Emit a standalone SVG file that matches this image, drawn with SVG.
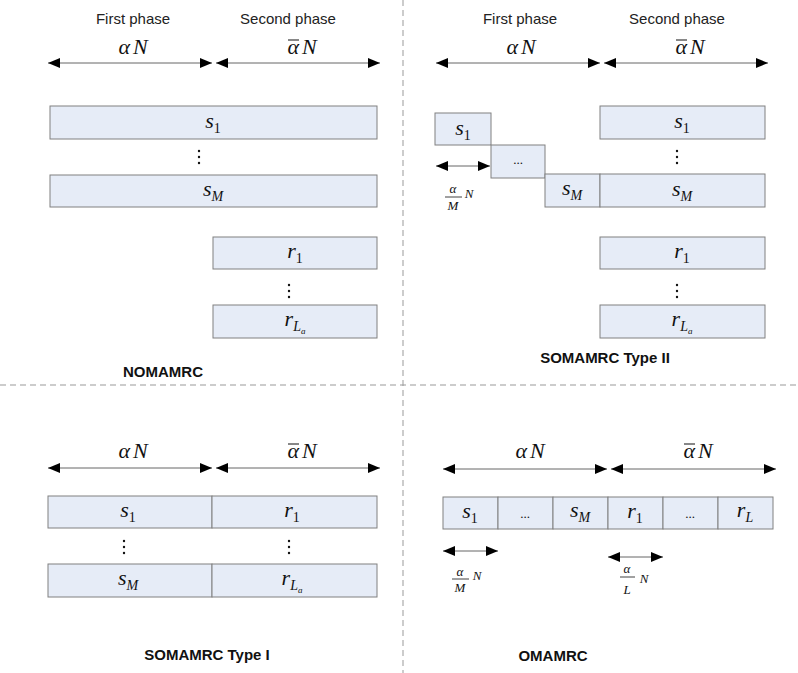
<svg xmlns="http://www.w3.org/2000/svg" width="798" height="673" viewBox="0 0 798 673">
<defs>
<style>
.box{fill:#E6ECF7;stroke:#808080;stroke-width:1}
.arr{stroke:#666;stroke-width:1;fill:none;marker-start:url(#ah);marker-end:url(#ah)}
.div{stroke:#999;stroke-width:1;stroke-dasharray:6,4;fill:none}
.ph{font-family:"Liberation Sans",Arial,sans-serif;font-size:15px;fill:#222;text-anchor:middle}
.lbl{font-family:"Liberation Sans",Arial,sans-serif;font-size:15px;font-weight:bold;fill:#111;text-anchor:middle}
.m{font-family:"Liberation Serif","Times New Roman",serif;font-size:22px;fill:#111;text-anchor:middle}
.i{font-style:italic}
.sub{font-size:14px}
.ss{font-size:9px;font-style:italic}
.sm{font-family:"Liberation Serif","Times New Roman",serif;font-size:13px;fill:#111;text-anchor:middle}
.dot{fill:#111}
.bar{stroke:#111;stroke-width:1}
.frac{stroke:#111;stroke-width:0.8}
</style>
<marker id="ah" viewBox="0 0 12 10" refX="12" refY="5" markerWidth="12" markerHeight="10" markerUnits="userSpaceOnUse" orient="auto-start-reverse">
<path d="M0,0 L12,5 L0,10 z" fill="#000"/>
</marker>
</defs>
<rect width="798" height="673" fill="#fff"/>

<g id="dividers">
<line class="div" x1="0" y1="385" x2="798" y2="385"/>
<line class="div" x1="403" y1="0" x2="403" y2="673"/>
</g>

<g id="connectors">
<line class="arr" x1="48" y1="63" x2="212" y2="63"/>
<line class="arr" x1="216" y1="63" x2="380" y2="63"/>
<line class="arr" x1="436" y1="63" x2="600" y2="63"/>
<line class="arr" x1="604" y1="63" x2="768" y2="63"/>
<line class="arr" x1="436" y1="166" x2="490" y2="166"/>
<line class="arr" x1="48" y1="468" x2="212" y2="468"/>
<line class="arr" x1="216" y1="468" x2="380" y2="468"/>
<line class="arr" x1="443" y1="469" x2="607" y2="469"/>
<line class="arr" x1="611" y1="469" x2="776" y2="469"/>
<line class="arr" x1="443" y1="551" x2="498" y2="551"/>
<line class="arr" x1="608" y1="557" x2="663" y2="557"/>
</g>

<g id="nomamrc">
<text class="ph" x="133" y="24">First phase</text>
<text class="ph" x="288" y="24">Second phase</text>
<text class="m" x="133" y="54"><tspan class="i">α</tspan><tspan class="i" dx="3">N</tspan></text>
<text class="m" x="302" y="54"><tspan class="i">α</tspan><tspan class="i" dx="3">N</tspan></text>
<line class="bar" x1="288" y1="40" x2="299" y2="40"/>
<g id="tl-s1"><rect class="box" x="50" y="106" width="327" height="33"/><text class="m" x="213" y="128"><tspan class="i">s</tspan><tspan class="sub" dy="5">1</tspan></text></g>
<g id="tl-dots1"><circle class="dot" cx="199" cy="151" r="1.2"/><circle class="dot" cx="199" cy="157" r="1.2"/><circle class="dot" cx="199" cy="163" r="1.2"/></g>
<g id="tl-sM"><rect class="box" x="50" y="175" width="327" height="32"/><text class="m" x="213" y="196"><tspan class="i">s</tspan><tspan class="sub i" dy="5">M</tspan></text></g>
<g id="tl-r1"><rect class="box" x="213" y="237" width="164" height="32"/><text class="m" x="295" y="258"><tspan class="i">r</tspan><tspan class="sub" dy="5">1</tspan></text></g>
<g id="tl-dots2"><circle class="dot" cx="289" cy="285" r="1.2"/><circle class="dot" cx="289" cy="291" r="1.2"/><circle class="dot" cx="289" cy="297" r="1.2"/></g>
<g id="tl-rLa"><rect class="box" x="213" y="305" width="164" height="33"/><text class="m" x="295" y="326"><tspan class="i">r</tspan><tspan class="sub i" font-size="12" dy="5">L</tspan><tspan class="ss" dy="3">a</tspan></text></g>
<text class="lbl" x="163" y="377">NOMAMRC</text>
</g>

<g id="somamrc2">
<text class="ph" x="520" y="24">First phase</text>
<text class="ph" x="677" y="24">Second phase</text>
<text class="m" x="521" y="54"><tspan class="i">α</tspan><tspan class="i" dx="3">N</tspan></text>
<text class="m" x="690" y="54"><tspan class="i">α</tspan><tspan class="i" dx="3">N</tspan></text>
<line class="bar" x1="676" y1="40" x2="687" y2="40"/>
<g id="tr-s1s"><rect class="box" x="435" y="113" width="56" height="32"/><text class="m" x="463" y="135"><tspan class="i">s</tspan><tspan class="sub" dy="5">1</tspan></text></g>
<g id="tr-dotsbox"><rect class="box" x="491" y="145" width="54" height="33"/><text class="sm" x="518" y="164">...</text></g>
<g id="tr-sMs"><rect class="box" x="545" y="174" width="55" height="33"/><text class="m" x="572" y="195"><tspan class="i">s</tspan><tspan class="sub i" dy="5">M</tspan></text></g>
<text class="sm" x="453" y="193" font-size="12"><tspan class="i">α</tspan></text>
<line class="frac" x1="445" y1="197" x2="462" y2="197"/>
<text class="sm" x="453" y="210" font-size="13"><tspan class="i">M</tspan></text>
<text class="sm" x="469" y="198" font-size="14"><tspan class="i">N</tspan></text>
<g id="tr-s1"><rect class="box" x="600" y="106" width="165" height="33"/><text class="m" x="682" y="128"><tspan class="i">s</tspan><tspan class="sub" dy="5">1</tspan></text></g>
<g id="tr-dots1"><circle class="dot" cx="677" cy="151" r="1.2"/><circle class="dot" cx="677" cy="157" r="1.2"/><circle class="dot" cx="677" cy="163" r="1.2"/></g>
<g id="tr-sM"><rect class="box" x="600" y="174" width="165" height="33"/><text class="m" x="682" y="196"><tspan class="i">s</tspan><tspan class="sub i" dy="5">M</tspan></text></g>
<g id="tr-r1"><rect class="box" x="600" y="237" width="165" height="32"/><text class="m" x="682" y="258"><tspan class="i">r</tspan><tspan class="sub" dy="5">1</tspan></text></g>
<g id="tr-dots2"><circle class="dot" cx="677" cy="285" r="1.2"/><circle class="dot" cx="677" cy="291" r="1.2"/><circle class="dot" cx="677" cy="297" r="1.2"/></g>
<g id="tr-rLa"><rect class="box" x="600" y="305" width="165" height="33"/><text class="m" x="682" y="326"><tspan class="i">r</tspan><tspan class="sub i" font-size="12" dy="5">L</tspan><tspan class="ss" dy="3">a</tspan></text></g>
<text class="lbl" x="605" y="363">SOMAMRC Type II</text>
</g>

<g id="somamrc1">
<text class="m" x="133" y="458"><tspan class="i">α</tspan><tspan class="i" dx="3">N</tspan></text>
<text class="m" x="302" y="458"><tspan class="i">α</tspan><tspan class="i" dx="3">N</tspan></text>
<line class="bar" x1="288" y1="444" x2="299" y2="444"/>
<g id="bl-s1"><rect class="box" x="48" y="496" width="164" height="32"/><text class="m" x="128" y="517"><tspan class="i">s</tspan><tspan class="sub" dy="5">1</tspan></text></g>
<g id="bl-r1"><rect class="box" x="212" y="496" width="165" height="32"/><text class="m" x="292" y="517"><tspan class="i">r</tspan><tspan class="sub" dy="5">1</tspan></text></g>
<g id="bl-dots1"><circle class="dot" cx="124" cy="541" r="1.2"/><circle class="dot" cx="124" cy="547" r="1.2"/><circle class="dot" cx="124" cy="553" r="1.2"/></g>
<g id="bl-dots2"><circle class="dot" cx="289" cy="541" r="1.2"/><circle class="dot" cx="289" cy="547" r="1.2"/><circle class="dot" cx="289" cy="553" r="1.2"/></g>
<g id="bl-sM"><rect class="box" x="48" y="564" width="164" height="33"/><text class="m" x="128" y="585"><tspan class="i">s</tspan><tspan class="sub i" dy="5">M</tspan></text></g>
<g id="bl-rLa"><rect class="box" x="212" y="564" width="165" height="33"/><text class="m" x="292" y="585"><tspan class="i">r</tspan><tspan class="sub i" font-size="12" dy="5">L</tspan><tspan class="ss" dy="3">a</tspan></text></g>
<text class="lbl" x="207" y="660">SOMAMRC Type I</text>
</g>

<g id="omamrc">
<text class="m" x="530" y="458"><tspan class="i">α</tspan><tspan class="i" dx="3">N</tspan></text>
<text class="m" x="698" y="458"><tspan class="i">α</tspan><tspan class="i" dx="3">N</tspan></text>
<line class="bar" x1="684" y1="444" x2="695" y2="444"/>
<g id="br-s1"><rect class="box" x="443" y="497" width="55" height="32"/><text class="m" x="470" y="518"><tspan class="i">s</tspan><tspan class="sub" dy="5">1</tspan></text></g>
<g id="br-d1"><rect class="box" x="498" y="497" width="55" height="32"/><text class="sm" x="525" y="518">...</text></g>
<g id="br-sM"><rect class="box" x="553" y="497" width="55" height="32"/><text class="m" x="580" y="517"><tspan class="i">s</tspan><tspan class="sub i" dy="5">M</tspan></text></g>
<g id="br-r1"><rect class="box" x="608" y="497" width="55" height="32"/><text class="m" x="635" y="518"><tspan class="i">r</tspan><tspan class="sub" dy="5">1</tspan></text></g>
<g id="br-d2"><rect class="box" x="663" y="497" width="55" height="32"/><text class="sm" x="690" y="518">...</text></g>
<g id="br-rL"><rect class="box" x="718" y="497" width="55" height="32"/><text class="m" x="745" y="517"><tspan class="i">r</tspan><tspan class="sub i" dy="5">L</tspan></text></g>
<text class="sm" x="460" y="576" font-size="12"><tspan class="i">α</tspan></text>
<line class="frac" x1="452" y1="579" x2="469" y2="579"/>
<text class="sm" x="460" y="592" font-size="13"><tspan class="i">M</tspan></text>
<text class="sm" x="477" y="580" font-size="14"><tspan class="i">N</tspan></text>
<text class="sm" x="627" y="573" font-size="12"><tspan class="i">α</tspan></text>
<line class="frac" x1="620" y1="577" x2="635" y2="577"/>
<text class="sm" x="627" y="594" font-size="13"><tspan class="i">L</tspan></text>
<text class="sm" x="644" y="583" font-size="14"><tspan class="i">N</tspan></text>
<text class="lbl" x="553" y="661">OMAMRC</text>
</g>
</svg>
